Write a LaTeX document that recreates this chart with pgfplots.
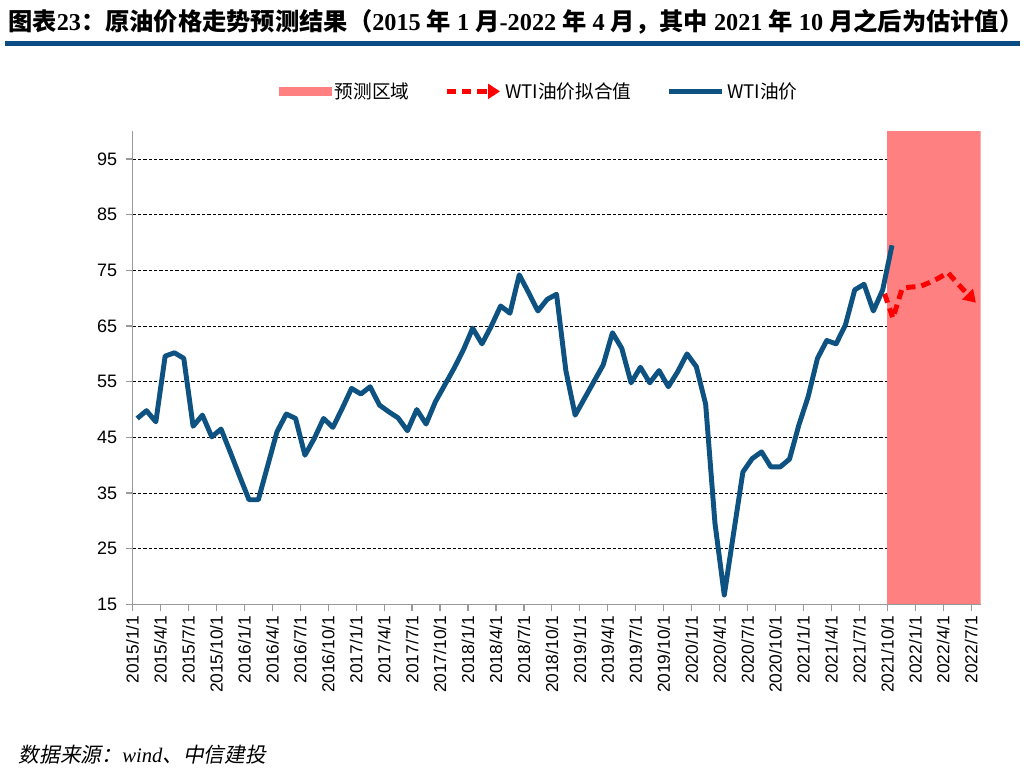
\documentclass[border=0pt]{standalone}
\usepackage{pgfplots}
\pgfplotsset{compat=1.18}
\usepackage{fontspec}
\setmainfont{Liberation Sans}
\newfontfamily\cjk{Noto Sans CJK SC}
\newfontfamily\cjkit[FakeSlant=0.2]{Noto Sans CJK SC}
\newfontfamily\tnr{Liberation Serif}
\usetikzlibrary{arrows.meta}
\definecolor{wtiblue}{RGB}{14,82,130}
\definecolor{zone}{RGB}{255,128,128}
\definecolor{rulecol}{RGB}{12,76,132}
\newcommand\T[1]{{\tnr #1}}
\begin{document}
\begin{tikzpicture}
\useasboundingbox (0,0) rectangle (768pt,581.25pt);
\node[anchor=west, inner sep=0pt] at (6pt,565pt) {\fontsize{18.2}{20}\selectfont\bfseries\cjk 图表\T{23}：原油价格走势预测结果（\T{2015 }年\T{ 1 }月\T{-2022 }年\T{ 4 }月，其中\T{ 2021 }年\T{ 10 }月之后为估计值）};
\fill[rulecol] (4pt,546.5pt) rectangle (765pt,550.5pt);
\begin{axis}[
  at={(99.4pt,127.9pt)}, anchor=south west,
  scale only axis, width=636pt, height=355pt,
  xmin=0, xmax=91, ymin=15, ymax=100,
  axis x line*=bottom, axis y line*=left,
  axis line style={draw=gray!80, line width=0.9pt},
  xtick={0,3,...,90},
  xticklabels={2015/1/1,2015/4/1,2015/7/1,2015/10/1,2016/1/1,2016/4/1,2016/7/1,2016/10/1,2017/1/1,2017/4/1,2017/7/1,2017/10/1,2018/1/1,2018/4/1,2018/7/1,2018/10/1,2019/1/1,2019/4/1,2019/7/1,2019/10/1,2020/1/1,2020/4/1,2020/7/1,2020/10/1,2021/1/1,2021/4/1,2021/7/1,2021/10/1,2022/1/1,2022/4/1,2022/7/1},
  x tick label style={rotate=90, anchor=east, font=\fontsize{13}{13}\selectfont},
  ytick={15,25,...,95},
  y tick label style={font=\fontsize{13.5}{13.5}\selectfont, xshift=-3pt},
  ymajorgrids,
  major grid style={black, line width=0.6pt, dash pattern=on 2.5pt off 1.5pt},
  tick align=outside, major tick length=5pt,
  tick style={gray!80, line width=0.9pt},
  /pgf/number format/assume math mode=true,
  legend style={at={(0.48,1.084)}, anchor=center, draw=none, fill=none,
    legend columns=3, font=\cjk\fontsize{14}{14}\selectfont,
    /tikz/every even column/.append style={column sep=24pt}},
  legend image code/.code={\draw (0pt,0pt) -- (40pt,0pt);},
]
\addplot[draw=none, fill=zone,
  legend image code/.code={\fill[zone] (0pt,-3.5pt) rectangle (40pt,3.5pt);}]
  coordinates {(81,15) (81,100) (91,100) (91,15)} -- cycle;
\addlegendentry{预测区域}
\addplot[red, line width=3.7pt, dash pattern=on 7pt off 4.5pt, line join=round,
  -{Triangle[length=9pt,width=11pt]}]
  coordinates {(80.7,70.8)(81.6,66.4)(82.6,71.8)(83.5,72.0)(84.5,72.1)(85.5,72.8)(86.5,73.6)(87.5,74.6)(88.5,72.7)(89.5,70.9)(90.5,69.2)};
\addlegendentry{WTI油价拟合值}
\addplot[wtiblue, line width=3.7pt, line join=round]
  coordinates {(0.5,48.4)(1.5,49.8)(2.5,47.8)(3.5,59.6)(4.5,60.2)(5.5,59.2)(6.5,47.0)(7.5,49.0)(8.5,45.1)(9.5,46.5)(10.5,42.3)(11.5,38.0)(12.5,33.8)(13.5,33.8)(14.5,39.9)(15.5,46.0)(16.5,49.2)(17.5,48.4)(18.5,41.8)(19.5,44.8)(20.5,48.4)(21.5,46.8)(22.5,50.2)(23.5,53.8)(24.5,52.8)(25.5,54.1)(26.5,50.8)(27.5,49.6)(28.5,48.5)(29.5,46.2)(30.5,50.0)(31.5,47.4)(32.5,51.4)(33.5,54.4)(34.5,57.4)(35.5,60.7)(36.5,64.6)(37.5,61.8)(38.5,65.0)(39.5,68.6)(40.5,67.3)(41.5,74.2)(42.5,71.0)(43.5,67.7)(44.5,69.8)(45.5,70.7)(46.5,57.0)(47.5,49.0)(48.5,52.0)(49.5,55.0)(50.5,58.0)(51.5,63.8)(52.5,61.0)(53.5,54.8)(54.5,57.6)(55.5,54.8)(56.5,57.0)(57.5,54.1)(58.5,56.8)(59.5,60.0)(60.5,57.7)(61.5,51.0)(62.5,29.6)(63.5,16.7)(64.5,27.8)(65.5,38.8)(66.5,41.2)(67.5,42.4)(68.5,39.7)(69.5,39.7)(70.5,41.1)(71.5,47.2)(72.5,52.3)(73.5,59.2)(74.5,62.4)(75.5,61.8)(76.5,65.2)(77.5,71.5)(78.5,72.5)(79.5,67.7)(80.5,71.5)(81.5,79.5)};
\addlegendentry{WTI油价}
\end{axis}
\node[anchor=west, inner sep=0pt] at (14pt,15pt) {\cjkit\fontsize{15.5}{15.5}\selectfont 数据来源：{\tnr\itshape wind}、中信建投};
\end{tikzpicture}
\end{document}
